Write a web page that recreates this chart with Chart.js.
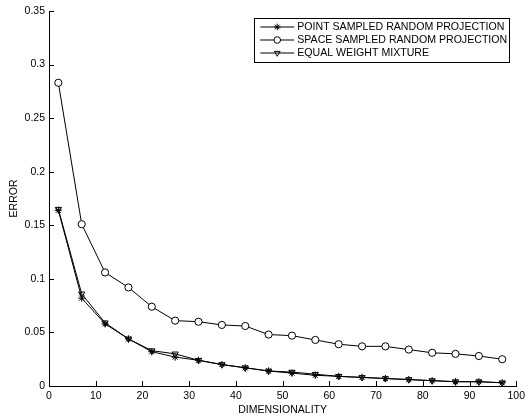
<!DOCTYPE html>
<html>
<head>
<meta charset="utf-8">
<script src="https://cdn.jsdelivr.net/npm/chart.js@4/dist/chart.umd.min.js"></script>
<style>
  html, body { margin: 0; padding: 0; background: #fff; }
  #wrap { width: 529px; height: 419px; position: relative; }
</style>
</head>
<body>
<div id="wrap"><canvas id="chart"></canvas></div>
<script>
// Error vs dimensionality, three projection schemes
const dims = [2, 7, 12, 17, 22, 27, 32, 37, 42, 47, 52, 57, 62, 67, 72, 77, 82, 87, 92, 97];
const pointSampled = [0.164, 0.082, 0.058, 0.044, 0.032, 0.027, 0.024, 0.020, 0.017, 0.014,
                      0.012, 0.010, 0.009, 0.008, 0.007, 0.006, 0.005, 0.004, 0.004, 0.003];
const spaceSampled = [0.283, 0.151, 0.106, 0.092, 0.074, 0.061, 0.060, 0.057, 0.056, 0.048,
                      0.047, 0.043, 0.039, 0.037, 0.037, 0.034, 0.031, 0.030, 0.028, 0.025];
const equalWeight  = [0.165, 0.086, 0.059, 0.044, 0.033, 0.030, 0.024, 0.020, 0.017, 0.014,
                      0.013, 0.011, 0.009, 0.008, 0.007, 0.006, 0.005, 0.004, 0.004, 0.003];
const seriesNames = ["POINT SAMPLED RANDOM PROJECTION", "SPACE SAMPLED RANDOM PROJECTION", "EQUAL WEIGHT MIXTURE"];
const xTicks = [0, 10, 20, 30, 40, 50, 60, 70, 80, 90, 100];
const yTicks = [0, 0.05, 0.1, 0.15, 0.2, 0.25, 0.3, 0.35];

const FONT = "'Liberation Sans', Arial, Helvetica, sans-serif";

function pts(ys){ return dims.map((d, i) => ({ x: d, y: ys[i] })); }

function series(label, ys, style, rot, fill){
  return {
    label,
    data: pts(ys),
    borderColor: "#000",
    borderWidth: 1,
    pointStyle: style,
    rotation: rot,
    pointRadius: 3.6,
    pointBorderWidth: 1,
    pointBorderColor: "#000",
    pointBackgroundColor: fill,
    tension: 0,
    fill: false
  };
}

// inward tick marks, matlab style
const inwardTicks = {
  id: "inwardTicks",
  afterDraw(chart){
    const { ctx, chartArea, scales } = chart;
    ctx.save();
    ctx.strokeStyle = "#000";
    ctx.lineWidth = 1;
    ctx.beginPath();
    xTicks.forEach(v => {
      const px = Math.round(scales.x.getPixelForValue(v)) + 0.5;
      ctx.moveTo(px, chartArea.bottom);
      ctx.lineTo(px, chartArea.bottom - 5);
    });
    yTicks.forEach(v => {
      const py = Math.round(scales.y.getPixelForValue(v)) + 0.5;
      ctx.moveTo(chartArea.left, py);
      ctx.lineTo(chartArea.left + 5, py);
    });
    ctx.stroke();
    ctx.restore();
  }
};

// boxed legend in the top-right corner of the plot
const boxLegend = {
  id: "boxLegend",
  afterDraw(chart){
    const { ctx, chartArea } = chart;
    const right = chartArea.right - 7, top = chartArea.top + 6.5;
    const w = 255, h = 44;
    const left = right - w;
    ctx.save();
    ctx.fillStyle = "#fff";
    ctx.fillRect(left, top, w, h);
    ctx.strokeStyle = "#000";
    ctx.lineWidth = 1;
    ctx.strokeRect(Math.round(left) + 0.5, Math.round(top) + 0.5, w, h);
    ctx.font = "10.6px " + FONT;
    ctx.textBaseline = "middle";
    chart.data.datasets.forEach((ds, i) => {
      const y = top + 9.5 + i * 13;
      ctx.strokeStyle = "#000";
      ctx.lineWidth = 1;
      ctx.beginPath();
      ctx.moveTo(left + 6, y);
      ctx.lineTo(left + 40, y);
      ctx.stroke();
      ctx.fillStyle = ds.pointBackgroundColor;
      Chart.helpers.drawPoint(ctx, {
        pointStyle: ds.pointStyle, rotation: ds.rotation,
        radius: 3.3, borderWidth: 1
      }, left + 23, y);
      ctx.fillStyle = "#000";
      ctx.fillText(ds.label, left + 43, y + 0.5);
    });
    ctx.restore();
  }
};

new Chart(document.getElementById("chart"), {
  type: "line",
  data: {
    datasets: [
      series(seriesNames[0], pointSampled, "star", 0, "rgba(0,0,0,0)"),
      series(seriesNames[1], spaceSampled, "circle", 0, "#fff"),
      series(seriesNames[2], equalWeight, "triangle", 180, "rgba(0,0,0,0)")
    ]
  },
  options: {
    responsive: true,
    maintainAspectRatio: false,
    animation: false,
    layout: { padding: { top: 11, right: 11, left: 0, bottom: 0 } },
    plugins: { legend: { display: false }, tooltip: { enabled: false } },
    scales: {
      x: {
        type: "linear",
        min: 0, max: 100,
        afterFit: s => { s.height = 33; },
        afterBuildTicks: s => { s.ticks = xTicks.map(v => ({ value: v })); },
        grid: { display: false, drawTicks: false },
        border: { display: true, color: "#000", width: 1 },
        ticks: { color: "#000", padding: 4, maxRotation: 0, font: { family: FONT, size: 10.5 } },
        title: {
          display: true, text: "DIMENSIONALITY", color: "#000",
          padding: { top: 0, bottom: 3 }, font: { family: FONT, size: 10.5 }
        }
      },
      y: {
        type: "linear",
        min: 0, max: 0.35,
        afterFit: s => { s.width = 49; },
        afterBuildTicks: s => { s.ticks = yTicks.map(v => ({ value: v })); },
        grid: { display: false, drawTicks: false },
        border: { display: true, color: "#000", width: 1 },
        ticks: {
          color: "#000", padding: 4, font: { family: FONT, size: 10.5 },
          callback: v => String(parseFloat(Number(v).toFixed(2)))
        },
        title: {
          display: true, text: "ERROR", color: "#000",
          padding: { top: 8, bottom: 0 }, font: { family: FONT, size: 10.5 }
        }
      }
    }
  },
  plugins: [inwardTicks, boxLegend]
});
</script>
</body>
</html>
